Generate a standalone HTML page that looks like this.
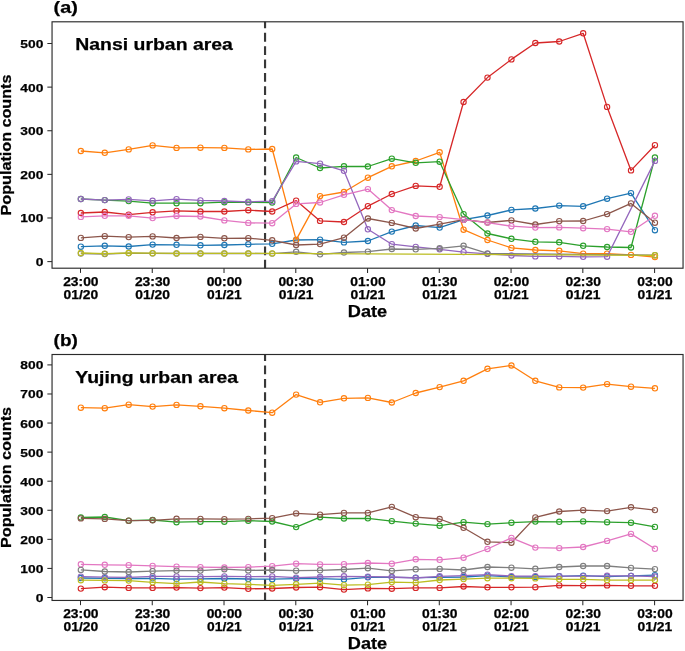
<!DOCTYPE html>
<html lang="en">
<head>
<meta charset="utf-8">
<title>Population counts</title>
<style>
html,body{margin:0;padding:0;background:#fff;}
body{width:685px;height:651px;overflow:hidden;font-family:"Liberation Sans",sans-serif;}
svg{display:block;}
</style>
</head>
<body>
<svg width="685" height="651" viewBox="0 0 685 651" font-family="'Liberation Sans', sans-serif" font-weight="bold" fill="#000">
<rect width="685" height="651" fill="#fff"/>
<g style="filter:opacity(1)">
<line x1="265.05" y1="21.8" x2="265.05" y2="268.2" stroke="#383838" stroke-width="2.15" stroke-dasharray="8.8 4.55" stroke-dashoffset="2.30"/>
<polyline points="80.85,246.70 104.77,245.80 128.69,246.50 152.61,244.60 176.53,244.80 200.45,245.30 224.37,245.00 248.29,244.30 272.21,243.80 296.13,240.00 320.05,239.70 343.97,242.40 367.89,241.00 391.81,231.60 415.73,225.50 439.65,227.60 463.57,219.70 487.49,215.50 511.41,209.90 535.33,208.50 559.25,205.60 583.17,206.30 607.09,198.70 631.01,193.10 654.93,230.20" fill="none" stroke="#1f77b4" stroke-width="1.3" stroke-linejoin="round"/>
<g fill="none" stroke="#1f77b4" stroke-width="1.1"><circle cx="80.85" cy="246.70" r="2.65"/><circle cx="104.77" cy="245.80" r="2.65"/><circle cx="128.69" cy="246.50" r="2.65"/><circle cx="152.61" cy="244.60" r="2.65"/><circle cx="176.53" cy="244.80" r="2.65"/><circle cx="200.45" cy="245.30" r="2.65"/><circle cx="224.37" cy="245.00" r="2.65"/><circle cx="248.29" cy="244.30" r="2.65"/><circle cx="272.21" cy="243.80" r="2.65"/><circle cx="296.13" cy="240.00" r="2.65"/><circle cx="320.05" cy="239.70" r="2.65"/><circle cx="343.97" cy="242.40" r="2.65"/><circle cx="367.89" cy="241.00" r="2.65"/><circle cx="391.81" cy="231.60" r="2.65"/><circle cx="415.73" cy="225.50" r="2.65"/><circle cx="439.65" cy="227.60" r="2.65"/><circle cx="463.57" cy="219.70" r="2.65"/><circle cx="487.49" cy="215.50" r="2.65"/><circle cx="511.41" cy="209.90" r="2.65"/><circle cx="535.33" cy="208.50" r="2.65"/><circle cx="559.25" cy="205.60" r="2.65"/><circle cx="583.17" cy="206.30" r="2.65"/><circle cx="607.09" cy="198.70" r="2.65"/><circle cx="631.01" cy="193.10" r="2.65"/><circle cx="654.93" cy="230.20" r="2.65"/></g>
<polyline points="80.85,151.00 104.77,152.80 128.69,149.40 152.61,145.40 176.53,147.90 200.45,147.70 224.37,147.90 248.29,149.40 272.21,149.00 296.13,239.90 320.05,196.10 343.97,192.00 367.89,177.70 391.81,166.30 415.73,161.00 439.65,152.30 463.57,229.70 487.49,240.00 511.41,247.90 535.33,250.00 559.25,250.80 583.17,253.60 607.09,253.60 631.01,254.90 654.93,257.10" fill="none" stroke="#ff7f0e" stroke-width="1.3" stroke-linejoin="round"/>
<g fill="none" stroke="#ff7f0e" stroke-width="1.1"><circle cx="80.85" cy="151.00" r="2.65"/><circle cx="104.77" cy="152.80" r="2.65"/><circle cx="128.69" cy="149.40" r="2.65"/><circle cx="152.61" cy="145.40" r="2.65"/><circle cx="176.53" cy="147.90" r="2.65"/><circle cx="200.45" cy="147.70" r="2.65"/><circle cx="224.37" cy="147.90" r="2.65"/><circle cx="248.29" cy="149.40" r="2.65"/><circle cx="272.21" cy="149.00" r="2.65"/><circle cx="296.13" cy="239.90" r="2.65"/><circle cx="320.05" cy="196.10" r="2.65"/><circle cx="343.97" cy="192.00" r="2.65"/><circle cx="367.89" cy="177.70" r="2.65"/><circle cx="391.81" cy="166.30" r="2.65"/><circle cx="415.73" cy="161.00" r="2.65"/><circle cx="439.65" cy="152.30" r="2.65"/><circle cx="463.57" cy="229.70" r="2.65"/><circle cx="487.49" cy="240.00" r="2.65"/><circle cx="511.41" cy="247.90" r="2.65"/><circle cx="535.33" cy="250.00" r="2.65"/><circle cx="559.25" cy="250.80" r="2.65"/><circle cx="583.17" cy="253.60" r="2.65"/><circle cx="607.09" cy="253.60" r="2.65"/><circle cx="631.01" cy="254.90" r="2.65"/><circle cx="654.93" cy="257.10" r="2.65"/></g>
<polyline points="80.85,199.00 104.77,200.10 128.69,201.10 152.61,203.20 176.53,203.20 200.45,203.20 224.37,202.20 248.29,202.40 272.21,202.60 296.13,157.50 320.05,168.00 343.97,166.30 367.89,166.50 391.81,158.70 415.73,162.80 439.65,161.70 463.57,214.10 487.49,233.50 511.41,238.80 535.33,241.80 559.25,242.30 583.17,245.80 607.09,247.00 631.01,247.50 654.93,157.50" fill="none" stroke="#2ca02c" stroke-width="1.3" stroke-linejoin="round"/>
<g fill="none" stroke="#2ca02c" stroke-width="1.1"><circle cx="80.85" cy="199.00" r="2.65"/><circle cx="104.77" cy="200.10" r="2.65"/><circle cx="128.69" cy="201.10" r="2.65"/><circle cx="152.61" cy="203.20" r="2.65"/><circle cx="176.53" cy="203.20" r="2.65"/><circle cx="200.45" cy="203.20" r="2.65"/><circle cx="224.37" cy="202.20" r="2.65"/><circle cx="248.29" cy="202.40" r="2.65"/><circle cx="272.21" cy="202.60" r="2.65"/><circle cx="296.13" cy="157.50" r="2.65"/><circle cx="320.05" cy="168.00" r="2.65"/><circle cx="343.97" cy="166.30" r="2.65"/><circle cx="367.89" cy="166.50" r="2.65"/><circle cx="391.81" cy="158.70" r="2.65"/><circle cx="415.73" cy="162.80" r="2.65"/><circle cx="439.65" cy="161.70" r="2.65"/><circle cx="463.57" cy="214.10" r="2.65"/><circle cx="487.49" cy="233.50" r="2.65"/><circle cx="511.41" cy="238.80" r="2.65"/><circle cx="535.33" cy="241.80" r="2.65"/><circle cx="559.25" cy="242.30" r="2.65"/><circle cx="583.17" cy="245.80" r="2.65"/><circle cx="607.09" cy="247.00" r="2.65"/><circle cx="631.01" cy="247.50" r="2.65"/><circle cx="654.93" cy="157.50" r="2.65"/></g>
<polyline points="80.85,213.00 104.77,212.00 128.69,214.60 152.61,212.30 176.53,210.90 200.45,211.50 224.37,211.50 248.29,210.20 272.21,211.50 296.13,200.60 320.05,220.90 343.97,222.00 367.89,206.20 391.81,194.00 415.73,185.90 439.65,186.80 463.57,102.00 487.49,77.60 511.41,59.40 535.33,43.00 559.25,41.50 583.17,33.30 607.09,106.90 631.01,170.40 654.93,145.20" fill="none" stroke="#d62728" stroke-width="1.3" stroke-linejoin="round"/>
<g fill="none" stroke="#d62728" stroke-width="1.1"><circle cx="80.85" cy="213.00" r="2.65"/><circle cx="104.77" cy="212.00" r="2.65"/><circle cx="128.69" cy="214.60" r="2.65"/><circle cx="152.61" cy="212.30" r="2.65"/><circle cx="176.53" cy="210.90" r="2.65"/><circle cx="200.45" cy="211.50" r="2.65"/><circle cx="224.37" cy="211.50" r="2.65"/><circle cx="248.29" cy="210.20" r="2.65"/><circle cx="272.21" cy="211.50" r="2.65"/><circle cx="296.13" cy="200.60" r="2.65"/><circle cx="320.05" cy="220.90" r="2.65"/><circle cx="343.97" cy="222.00" r="2.65"/><circle cx="367.89" cy="206.20" r="2.65"/><circle cx="391.81" cy="194.00" r="2.65"/><circle cx="415.73" cy="185.90" r="2.65"/><circle cx="439.65" cy="186.80" r="2.65"/><circle cx="463.57" cy="102.00" r="2.65"/><circle cx="487.49" cy="77.60" r="2.65"/><circle cx="511.41" cy="59.40" r="2.65"/><circle cx="535.33" cy="43.00" r="2.65"/><circle cx="559.25" cy="41.50" r="2.65"/><circle cx="583.17" cy="33.30" r="2.65"/><circle cx="607.09" cy="106.90" r="2.65"/><circle cx="631.01" cy="170.40" r="2.65"/><circle cx="654.93" cy="145.20" r="2.65"/></g>
<polyline points="80.85,199.00 104.77,200.10 128.69,199.40 152.61,200.80 176.53,199.20 200.45,200.40 224.37,201.00 248.29,201.80 272.21,201.20 296.13,161.40 320.05,163.70 343.97,170.80 367.89,229.30 391.81,244.20 415.73,246.90 439.65,249.30 463.57,252.10 487.49,253.90 511.41,255.50 535.33,256.40 559.25,256.40 583.17,256.80 607.09,256.70 654.93,160.90" fill="none" stroke="#9467bd" stroke-width="1.3" stroke-linejoin="round"/>
<g fill="none" stroke="#9467bd" stroke-width="1.1"><circle cx="80.85" cy="199.00" r="2.65"/><circle cx="104.77" cy="200.10" r="2.65"/><circle cx="128.69" cy="199.40" r="2.65"/><circle cx="152.61" cy="200.80" r="2.65"/><circle cx="176.53" cy="199.20" r="2.65"/><circle cx="200.45" cy="200.40" r="2.65"/><circle cx="224.37" cy="201.00" r="2.65"/><circle cx="248.29" cy="201.80" r="2.65"/><circle cx="272.21" cy="201.20" r="2.65"/><circle cx="296.13" cy="161.40" r="2.65"/><circle cx="320.05" cy="163.70" r="2.65"/><circle cx="343.97" cy="170.80" r="2.65"/><circle cx="367.89" cy="229.30" r="2.65"/><circle cx="391.81" cy="244.20" r="2.65"/><circle cx="415.73" cy="246.90" r="2.65"/><circle cx="439.65" cy="249.30" r="2.65"/><circle cx="463.57" cy="252.10" r="2.65"/><circle cx="487.49" cy="253.90" r="2.65"/><circle cx="511.41" cy="255.50" r="2.65"/><circle cx="535.33" cy="256.40" r="2.65"/><circle cx="559.25" cy="256.40" r="2.65"/><circle cx="583.17" cy="256.80" r="2.65"/><circle cx="607.09" cy="256.70" r="2.65"/><circle cx="654.93" cy="160.90" r="2.65"/></g>
<polyline points="80.85,237.90 104.77,236.20 128.69,237.10 152.61,236.40 176.53,238.00 200.45,236.90 224.37,238.30 248.29,238.20 272.21,240.30 296.13,245.00 320.05,244.10 343.97,237.70 367.89,218.50 391.81,222.90 415.73,228.50 439.65,224.10 463.57,219.70 487.49,222.50 511.41,220.40 535.33,224.50 559.25,221.10 583.17,221.00 607.09,214.10 631.01,203.40 654.93,222.70" fill="none" stroke="#8c564b" stroke-width="1.3" stroke-linejoin="round"/>
<g fill="none" stroke="#8c564b" stroke-width="1.1"><circle cx="80.85" cy="237.90" r="2.65"/><circle cx="104.77" cy="236.20" r="2.65"/><circle cx="128.69" cy="237.10" r="2.65"/><circle cx="152.61" cy="236.40" r="2.65"/><circle cx="176.53" cy="238.00" r="2.65"/><circle cx="200.45" cy="236.90" r="2.65"/><circle cx="224.37" cy="238.30" r="2.65"/><circle cx="248.29" cy="238.20" r="2.65"/><circle cx="272.21" cy="240.30" r="2.65"/><circle cx="296.13" cy="245.00" r="2.65"/><circle cx="320.05" cy="244.10" r="2.65"/><circle cx="343.97" cy="237.70" r="2.65"/><circle cx="367.89" cy="218.50" r="2.65"/><circle cx="391.81" cy="222.90" r="2.65"/><circle cx="415.73" cy="228.50" r="2.65"/><circle cx="439.65" cy="224.10" r="2.65"/><circle cx="463.57" cy="219.70" r="2.65"/><circle cx="487.49" cy="222.50" r="2.65"/><circle cx="511.41" cy="220.40" r="2.65"/><circle cx="535.33" cy="224.50" r="2.65"/><circle cx="559.25" cy="221.10" r="2.65"/><circle cx="583.17" cy="221.00" r="2.65"/><circle cx="607.09" cy="214.10" r="2.65"/><circle cx="631.01" cy="203.40" r="2.65"/><circle cx="654.93" cy="222.70" r="2.65"/></g>
<polyline points="80.85,216.90 104.77,215.80 128.69,215.80 152.61,218.10 176.53,216.00 200.45,216.50 224.37,220.40 248.29,222.90 272.21,223.20 296.13,203.90 320.05,202.50 343.97,194.80 367.89,189.10 391.81,210.10 415.73,216.00 439.65,217.10 463.57,219.70 487.49,222.60 511.41,226.20 535.33,227.60 559.25,227.40 583.17,228.20 607.09,229.10 631.01,231.80 654.93,215.80" fill="none" stroke="#e377c2" stroke-width="1.3" stroke-linejoin="round"/>
<g fill="none" stroke="#e377c2" stroke-width="1.1"><circle cx="80.85" cy="216.90" r="2.65"/><circle cx="104.77" cy="215.80" r="2.65"/><circle cx="128.69" cy="215.80" r="2.65"/><circle cx="152.61" cy="218.10" r="2.65"/><circle cx="176.53" cy="216.00" r="2.65"/><circle cx="200.45" cy="216.50" r="2.65"/><circle cx="224.37" cy="220.40" r="2.65"/><circle cx="248.29" cy="222.90" r="2.65"/><circle cx="272.21" cy="223.20" r="2.65"/><circle cx="296.13" cy="203.90" r="2.65"/><circle cx="320.05" cy="202.50" r="2.65"/><circle cx="343.97" cy="194.80" r="2.65"/><circle cx="367.89" cy="189.10" r="2.65"/><circle cx="391.81" cy="210.10" r="2.65"/><circle cx="415.73" cy="216.00" r="2.65"/><circle cx="439.65" cy="217.10" r="2.65"/><circle cx="463.57" cy="219.70" r="2.65"/><circle cx="487.49" cy="222.60" r="2.65"/><circle cx="511.41" cy="226.20" r="2.65"/><circle cx="535.33" cy="227.60" r="2.65"/><circle cx="559.25" cy="227.40" r="2.65"/><circle cx="583.17" cy="228.20" r="2.65"/><circle cx="607.09" cy="229.10" r="2.65"/><circle cx="631.01" cy="231.80" r="2.65"/><circle cx="654.93" cy="215.80" r="2.65"/></g>
<polyline points="80.85,253.50 104.77,254.00 128.69,253.20 152.61,253.40 176.53,253.50 200.45,253.50 224.37,253.50 248.29,253.50 272.21,253.60 296.13,251.80 320.05,254.30 343.97,252.50 367.89,251.60 391.81,249.00 415.73,249.30 439.65,248.30 463.57,245.80 487.49,253.40 654.93,255.20" fill="none" stroke="#7f7f7f" stroke-width="1.3" stroke-linejoin="round"/>
<g fill="none" stroke="#7f7f7f" stroke-width="1.1"><circle cx="80.85" cy="253.50" r="2.65"/><circle cx="104.77" cy="254.00" r="2.65"/><circle cx="128.69" cy="253.20" r="2.65"/><circle cx="152.61" cy="253.40" r="2.65"/><circle cx="176.53" cy="253.50" r="2.65"/><circle cx="200.45" cy="253.50" r="2.65"/><circle cx="224.37" cy="253.50" r="2.65"/><circle cx="248.29" cy="253.50" r="2.65"/><circle cx="272.21" cy="253.60" r="2.65"/><circle cx="296.13" cy="251.80" r="2.65"/><circle cx="320.05" cy="254.30" r="2.65"/><circle cx="343.97" cy="252.50" r="2.65"/><circle cx="367.89" cy="251.60" r="2.65"/><circle cx="391.81" cy="249.00" r="2.65"/><circle cx="415.73" cy="249.30" r="2.65"/><circle cx="439.65" cy="248.30" r="2.65"/><circle cx="463.57" cy="245.80" r="2.65"/><circle cx="487.49" cy="253.40" r="2.65"/><circle cx="654.93" cy="255.20" r="2.65"/></g>
<polyline points="80.85,253.00 104.77,253.60 128.69,253.00 152.61,253.20 176.53,253.40 200.45,253.40 224.37,253.40 248.29,253.40 272.21,253.40 654.93,255.30" fill="none" stroke="#bcbd22" stroke-width="1.3" stroke-linejoin="round"/>
<g fill="none" stroke="#bcbd22" stroke-width="1.1"><circle cx="80.85" cy="253.00" r="2.65"/><circle cx="104.77" cy="253.60" r="2.65"/><circle cx="128.69" cy="253.00" r="2.65"/><circle cx="152.61" cy="253.20" r="2.65"/><circle cx="176.53" cy="253.40" r="2.65"/><circle cx="200.45" cy="253.40" r="2.65"/><circle cx="224.37" cy="253.40" r="2.65"/><circle cx="248.29" cy="253.40" r="2.65"/><circle cx="272.21" cy="253.40" r="2.65"/><circle cx="654.93" cy="255.30" r="2.65"/></g>
<rect x="52.05" y="21.8" width="631.0" height="246.39999999999998" fill="none" stroke="#2b2b2b" stroke-width="1.15"/>
<line x1="47.349999999999994" y1="261.60" x2="52.05" y2="261.60" stroke="#2b2b2b" stroke-width="1.05"/>
<text stroke="#000" stroke-width="0.25" x="43.35" y="266.05" font-size="11.8" text-anchor="end" textLength="7.7" lengthAdjust="spacingAndGlyphs">0</text>
<line x1="47.349999999999994" y1="217.98" x2="52.05" y2="217.98" stroke="#2b2b2b" stroke-width="1.05"/>
<text stroke="#000" stroke-width="0.25" x="43.35" y="222.43" font-size="11.8" text-anchor="end" textLength="23.0" lengthAdjust="spacingAndGlyphs">100</text>
<line x1="47.349999999999994" y1="174.36" x2="52.05" y2="174.36" stroke="#2b2b2b" stroke-width="1.05"/>
<text stroke="#000" stroke-width="0.25" x="43.35" y="178.81" font-size="11.8" text-anchor="end" textLength="23.0" lengthAdjust="spacingAndGlyphs">200</text>
<line x1="47.349999999999994" y1="130.74" x2="52.05" y2="130.74" stroke="#2b2b2b" stroke-width="1.05"/>
<text stroke="#000" stroke-width="0.25" x="43.35" y="135.19" font-size="11.8" text-anchor="end" textLength="23.0" lengthAdjust="spacingAndGlyphs">300</text>
<line x1="47.349999999999994" y1="87.12" x2="52.05" y2="87.12" stroke="#2b2b2b" stroke-width="1.05"/>
<text stroke="#000" stroke-width="0.25" x="43.35" y="91.57" font-size="11.8" text-anchor="end" textLength="23.0" lengthAdjust="spacingAndGlyphs">400</text>
<line x1="47.349999999999994" y1="43.50" x2="52.05" y2="43.50" stroke="#2b2b2b" stroke-width="1.05"/>
<text stroke="#000" stroke-width="0.25" x="43.35" y="47.95" font-size="11.8" text-anchor="end" textLength="23.0" lengthAdjust="spacingAndGlyphs">500</text>
<line x1="80.50" y1="268.2" x2="80.50" y2="272.9" stroke="#2b2b2b" stroke-width="1.05"/>
<text stroke="#000" stroke-width="0.25" x="80.85" y="285.60" font-size="11.9" text-anchor="middle" textLength="35.4" lengthAdjust="spacingAndGlyphs">23:00</text>
<text stroke="#000" stroke-width="0.25" x="80.85" y="298.60" font-size="11.9" text-anchor="middle" textLength="34.6" lengthAdjust="spacingAndGlyphs">01/20</text>
<line x1="152.26" y1="268.2" x2="152.26" y2="272.9" stroke="#2b2b2b" stroke-width="1.05"/>
<text stroke="#000" stroke-width="0.25" x="152.61" y="285.60" font-size="11.9" text-anchor="middle" textLength="35.4" lengthAdjust="spacingAndGlyphs">23:30</text>
<text stroke="#000" stroke-width="0.25" x="152.61" y="298.60" font-size="11.9" text-anchor="middle" textLength="34.6" lengthAdjust="spacingAndGlyphs">01/20</text>
<line x1="224.02" y1="268.2" x2="224.02" y2="272.9" stroke="#2b2b2b" stroke-width="1.05"/>
<text stroke="#000" stroke-width="0.25" x="224.37" y="285.60" font-size="11.9" text-anchor="middle" textLength="35.4" lengthAdjust="spacingAndGlyphs">00:00</text>
<text stroke="#000" stroke-width="0.25" x="224.37" y="298.60" font-size="11.9" text-anchor="middle" textLength="34.6" lengthAdjust="spacingAndGlyphs">01/21</text>
<line x1="295.78" y1="268.2" x2="295.78" y2="272.9" stroke="#2b2b2b" stroke-width="1.05"/>
<text stroke="#000" stroke-width="0.25" x="296.13" y="285.60" font-size="11.9" text-anchor="middle" textLength="35.4" lengthAdjust="spacingAndGlyphs">00:30</text>
<text stroke="#000" stroke-width="0.25" x="296.13" y="298.60" font-size="11.9" text-anchor="middle" textLength="34.6" lengthAdjust="spacingAndGlyphs">01/21</text>
<line x1="367.54" y1="268.2" x2="367.54" y2="272.9" stroke="#2b2b2b" stroke-width="1.05"/>
<text stroke="#000" stroke-width="0.25" x="367.89" y="285.60" font-size="11.9" text-anchor="middle" textLength="35.4" lengthAdjust="spacingAndGlyphs">01:00</text>
<text stroke="#000" stroke-width="0.25" x="367.89" y="298.60" font-size="11.9" text-anchor="middle" textLength="34.6" lengthAdjust="spacingAndGlyphs">01/21</text>
<line x1="439.30" y1="268.2" x2="439.30" y2="272.9" stroke="#2b2b2b" stroke-width="1.05"/>
<text stroke="#000" stroke-width="0.25" x="439.65" y="285.60" font-size="11.9" text-anchor="middle" textLength="35.4" lengthAdjust="spacingAndGlyphs">01:30</text>
<text stroke="#000" stroke-width="0.25" x="439.65" y="298.60" font-size="11.9" text-anchor="middle" textLength="34.6" lengthAdjust="spacingAndGlyphs">01/21</text>
<line x1="511.06" y1="268.2" x2="511.06" y2="272.9" stroke="#2b2b2b" stroke-width="1.05"/>
<text stroke="#000" stroke-width="0.25" x="511.41" y="285.60" font-size="11.9" text-anchor="middle" textLength="35.4" lengthAdjust="spacingAndGlyphs">02:00</text>
<text stroke="#000" stroke-width="0.25" x="511.41" y="298.60" font-size="11.9" text-anchor="middle" textLength="34.6" lengthAdjust="spacingAndGlyphs">01/21</text>
<line x1="582.82" y1="268.2" x2="582.82" y2="272.9" stroke="#2b2b2b" stroke-width="1.05"/>
<text stroke="#000" stroke-width="0.25" x="583.17" y="285.60" font-size="11.9" text-anchor="middle" textLength="35.4" lengthAdjust="spacingAndGlyphs">02:30</text>
<text stroke="#000" stroke-width="0.25" x="583.17" y="298.60" font-size="11.9" text-anchor="middle" textLength="34.6" lengthAdjust="spacingAndGlyphs">01/21</text>
<line x1="654.58" y1="268.2" x2="654.58" y2="272.9" stroke="#2b2b2b" stroke-width="1.05"/>
<text stroke="#000" stroke-width="0.25" x="654.93" y="285.60" font-size="11.9" text-anchor="middle" textLength="35.4" lengthAdjust="spacingAndGlyphs">03:00</text>
<text stroke="#000" stroke-width="0.25" x="654.93" y="298.60" font-size="11.9" text-anchor="middle" textLength="34.6" lengthAdjust="spacingAndGlyphs">01/21</text>
<text stroke="#000" stroke-width="0.25" x="367.55" y="317.10" font-size="15.8" text-anchor="middle" textLength="39.4" lengthAdjust="spacingAndGlyphs">Date</text>
<text stroke="#000" stroke-width="0.25" transform="translate(11.4,145.00) rotate(-90)" font-size="14.0" text-anchor="middle" textLength="141.0" lengthAdjust="spacingAndGlyphs">Population counts</text>
<text stroke="#000" stroke-width="0.25" x="75.3" y="49.90" font-size="16.9" text-anchor="start" textLength="157.6" lengthAdjust="spacingAndGlyphs">Nansi urban area</text>
<text stroke="#000" stroke-width="0.25" x="53.6" y="13.00" font-size="15.6" text-anchor="start" textLength="24.2" lengthAdjust="spacingAndGlyphs">(a)</text>
<line x1="265.05" y1="354.5" x2="265.05" y2="600.45" stroke="#383838" stroke-width="2.15" stroke-dasharray="8.8 4.55" stroke-dashoffset="2.30"/>
<polyline points="80.85,578.00 104.77,578.30 128.69,578.50 152.61,578.30 176.53,579.20 200.45,578.80 224.37,578.50 248.29,579.00 272.21,579.20 296.13,578.70 320.05,578.70 343.97,579.40 367.89,577.30 391.81,577.30 415.73,577.70 439.65,577.30 463.57,577.00 487.49,575.60 511.41,577.00 535.33,577.00 559.25,576.30 583.17,575.60 607.09,576.60 631.01,575.90 654.93,575.20" fill="none" stroke="#1f77b4" stroke-width="1.3" stroke-linejoin="round"/>
<g fill="none" stroke="#1f77b4" stroke-width="1.1"><circle cx="80.85" cy="578.00" r="2.65"/><circle cx="104.77" cy="578.30" r="2.65"/><circle cx="128.69" cy="578.50" r="2.65"/><circle cx="152.61" cy="578.30" r="2.65"/><circle cx="176.53" cy="579.20" r="2.65"/><circle cx="200.45" cy="578.80" r="2.65"/><circle cx="224.37" cy="578.50" r="2.65"/><circle cx="248.29" cy="579.00" r="2.65"/><circle cx="272.21" cy="579.20" r="2.65"/><circle cx="296.13" cy="578.70" r="2.65"/><circle cx="320.05" cy="578.70" r="2.65"/><circle cx="343.97" cy="579.40" r="2.65"/><circle cx="367.89" cy="577.30" r="2.65"/><circle cx="391.81" cy="577.30" r="2.65"/><circle cx="415.73" cy="577.70" r="2.65"/><circle cx="439.65" cy="577.30" r="2.65"/><circle cx="463.57" cy="577.00" r="2.65"/><circle cx="487.49" cy="575.60" r="2.65"/><circle cx="511.41" cy="577.00" r="2.65"/><circle cx="535.33" cy="577.00" r="2.65"/><circle cx="559.25" cy="576.30" r="2.65"/><circle cx="583.17" cy="575.60" r="2.65"/><circle cx="607.09" cy="576.60" r="2.65"/><circle cx="631.01" cy="575.90" r="2.65"/><circle cx="654.93" cy="575.20" r="2.65"/></g>
<polyline points="80.85,407.70 104.77,408.20 128.69,404.70 152.61,406.60 176.53,404.90 200.45,406.30 224.37,408.20 248.29,410.50 272.21,412.70 296.13,394.60 320.05,402.30 343.97,398.30 367.89,397.90 391.81,402.50 415.73,393.00 439.65,387.10 463.57,380.80 487.49,368.80 511.41,365.50 535.33,380.80 559.25,387.40 583.17,387.60 607.09,384.10 631.01,386.70 654.93,388.30" fill="none" stroke="#ff7f0e" stroke-width="1.3" stroke-linejoin="round"/>
<g fill="none" stroke="#ff7f0e" stroke-width="1.1"><circle cx="80.85" cy="407.70" r="2.65"/><circle cx="104.77" cy="408.20" r="2.65"/><circle cx="128.69" cy="404.70" r="2.65"/><circle cx="152.61" cy="406.60" r="2.65"/><circle cx="176.53" cy="404.90" r="2.65"/><circle cx="200.45" cy="406.30" r="2.65"/><circle cx="224.37" cy="408.20" r="2.65"/><circle cx="248.29" cy="410.50" r="2.65"/><circle cx="272.21" cy="412.70" r="2.65"/><circle cx="296.13" cy="394.60" r="2.65"/><circle cx="320.05" cy="402.30" r="2.65"/><circle cx="343.97" cy="398.30" r="2.65"/><circle cx="367.89" cy="397.90" r="2.65"/><circle cx="391.81" cy="402.50" r="2.65"/><circle cx="415.73" cy="393.00" r="2.65"/><circle cx="439.65" cy="387.10" r="2.65"/><circle cx="463.57" cy="380.80" r="2.65"/><circle cx="487.49" cy="368.80" r="2.65"/><circle cx="511.41" cy="365.50" r="2.65"/><circle cx="535.33" cy="380.80" r="2.65"/><circle cx="559.25" cy="387.40" r="2.65"/><circle cx="583.17" cy="387.60" r="2.65"/><circle cx="607.09" cy="384.10" r="2.65"/><circle cx="631.01" cy="386.70" r="2.65"/><circle cx="654.93" cy="388.30" r="2.65"/></g>
<polyline points="80.85,517.50 104.77,517.00 128.69,520.70 152.61,520.00 176.53,522.20 200.45,521.70 224.37,521.70 248.29,520.70 272.21,521.50 296.13,527.10 320.05,517.20 343.97,518.50 367.89,518.30 391.81,521.10 415.73,523.60 439.65,525.70 463.57,522.20 487.49,524.10 511.41,522.70 535.33,521.60 559.25,521.80 583.17,521.40 607.09,522.20 631.01,522.70 654.93,526.90" fill="none" stroke="#2ca02c" stroke-width="1.3" stroke-linejoin="round"/>
<g fill="none" stroke="#2ca02c" stroke-width="1.1"><circle cx="80.85" cy="517.50" r="2.65"/><circle cx="104.77" cy="517.00" r="2.65"/><circle cx="128.69" cy="520.70" r="2.65"/><circle cx="152.61" cy="520.00" r="2.65"/><circle cx="176.53" cy="522.20" r="2.65"/><circle cx="200.45" cy="521.70" r="2.65"/><circle cx="224.37" cy="521.70" r="2.65"/><circle cx="248.29" cy="520.70" r="2.65"/><circle cx="272.21" cy="521.50" r="2.65"/><circle cx="296.13" cy="527.10" r="2.65"/><circle cx="320.05" cy="517.20" r="2.65"/><circle cx="343.97" cy="518.50" r="2.65"/><circle cx="367.89" cy="518.30" r="2.65"/><circle cx="391.81" cy="521.10" r="2.65"/><circle cx="415.73" cy="523.60" r="2.65"/><circle cx="439.65" cy="525.70" r="2.65"/><circle cx="463.57" cy="522.20" r="2.65"/><circle cx="487.49" cy="524.10" r="2.65"/><circle cx="511.41" cy="522.70" r="2.65"/><circle cx="535.33" cy="521.60" r="2.65"/><circle cx="559.25" cy="521.80" r="2.65"/><circle cx="583.17" cy="521.40" r="2.65"/><circle cx="607.09" cy="522.20" r="2.65"/><circle cx="631.01" cy="522.70" r="2.65"/><circle cx="654.93" cy="526.90" r="2.65"/></g>
<polyline points="80.85,588.60 104.77,587.20 128.69,587.90 152.61,587.90 176.53,587.60 200.45,588.10 224.37,587.60 248.29,588.80 272.21,588.50 296.13,587.50 320.05,587.20 343.97,589.60 367.89,588.40 391.81,588.70 415.73,587.90 439.65,587.90 463.57,586.50 487.49,587.30 511.41,587.30 535.33,587.20 559.25,585.40 583.17,585.60 607.09,585.40 631.01,585.80 654.93,585.80" fill="none" stroke="#d62728" stroke-width="1.3" stroke-linejoin="round"/>
<g fill="none" stroke="#d62728" stroke-width="1.1"><circle cx="80.85" cy="588.60" r="2.65"/><circle cx="104.77" cy="587.20" r="2.65"/><circle cx="128.69" cy="587.90" r="2.65"/><circle cx="152.61" cy="587.90" r="2.65"/><circle cx="176.53" cy="587.60" r="2.65"/><circle cx="200.45" cy="588.10" r="2.65"/><circle cx="224.37" cy="587.60" r="2.65"/><circle cx="248.29" cy="588.80" r="2.65"/><circle cx="272.21" cy="588.50" r="2.65"/><circle cx="296.13" cy="587.50" r="2.65"/><circle cx="320.05" cy="587.20" r="2.65"/><circle cx="343.97" cy="589.60" r="2.65"/><circle cx="367.89" cy="588.40" r="2.65"/><circle cx="391.81" cy="588.70" r="2.65"/><circle cx="415.73" cy="587.90" r="2.65"/><circle cx="439.65" cy="587.90" r="2.65"/><circle cx="463.57" cy="586.50" r="2.65"/><circle cx="487.49" cy="587.30" r="2.65"/><circle cx="511.41" cy="587.30" r="2.65"/><circle cx="535.33" cy="587.20" r="2.65"/><circle cx="559.25" cy="585.40" r="2.65"/><circle cx="583.17" cy="585.60" r="2.65"/><circle cx="607.09" cy="585.40" r="2.65"/><circle cx="631.01" cy="585.80" r="2.65"/><circle cx="654.93" cy="585.80" r="2.65"/></g>
<polyline points="80.85,576.60 104.77,577.10 128.69,577.40 152.61,576.40 176.53,576.40 200.45,576.70 224.37,576.40 248.29,576.60 272.21,576.40 296.13,577.70 320.05,577.00 343.97,576.30 367.89,576.60 391.81,577.00 415.73,578.00 439.65,576.30 463.57,575.60 487.49,574.70 511.41,576.10 535.33,576.10 559.25,576.10 583.17,576.10 607.09,575.80 631.01,575.90 654.93,576.50" fill="none" stroke="#9467bd" stroke-width="1.3" stroke-linejoin="round"/>
<g fill="none" stroke="#9467bd" stroke-width="1.1"><circle cx="80.85" cy="576.60" r="2.65"/><circle cx="104.77" cy="577.10" r="2.65"/><circle cx="128.69" cy="577.40" r="2.65"/><circle cx="152.61" cy="576.40" r="2.65"/><circle cx="176.53" cy="576.40" r="2.65"/><circle cx="200.45" cy="576.70" r="2.65"/><circle cx="224.37" cy="576.40" r="2.65"/><circle cx="248.29" cy="576.60" r="2.65"/><circle cx="272.21" cy="576.40" r="2.65"/><circle cx="296.13" cy="577.70" r="2.65"/><circle cx="320.05" cy="577.00" r="2.65"/><circle cx="343.97" cy="576.30" r="2.65"/><circle cx="367.89" cy="576.60" r="2.65"/><circle cx="391.81" cy="577.00" r="2.65"/><circle cx="415.73" cy="578.00" r="2.65"/><circle cx="439.65" cy="576.30" r="2.65"/><circle cx="463.57" cy="575.60" r="2.65"/><circle cx="487.49" cy="574.70" r="2.65"/><circle cx="511.41" cy="576.10" r="2.65"/><circle cx="535.33" cy="576.10" r="2.65"/><circle cx="559.25" cy="576.10" r="2.65"/><circle cx="583.17" cy="576.10" r="2.65"/><circle cx="607.09" cy="575.80" r="2.65"/><circle cx="631.01" cy="575.90" r="2.65"/><circle cx="654.93" cy="576.50" r="2.65"/></g>
<polyline points="80.85,518.40 104.77,518.90 128.69,520.70 152.61,520.30 176.53,518.80 200.45,518.90 224.37,519.10 248.29,518.90 272.21,518.10 296.13,513.40 320.05,514.60 343.97,512.90 367.89,512.90 391.81,506.90 415.73,517.20 439.65,519.00 463.57,527.80 487.49,541.80 511.41,542.70 535.33,517.40 559.25,511.50 583.17,510.20 607.09,511.10 631.01,507.30 654.93,510.10" fill="none" stroke="#8c564b" stroke-width="1.3" stroke-linejoin="round"/>
<g fill="none" stroke="#8c564b" stroke-width="1.1"><circle cx="80.85" cy="518.40" r="2.65"/><circle cx="104.77" cy="518.90" r="2.65"/><circle cx="128.69" cy="520.70" r="2.65"/><circle cx="152.61" cy="520.30" r="2.65"/><circle cx="176.53" cy="518.80" r="2.65"/><circle cx="200.45" cy="518.90" r="2.65"/><circle cx="224.37" cy="519.10" r="2.65"/><circle cx="248.29" cy="518.90" r="2.65"/><circle cx="272.21" cy="518.10" r="2.65"/><circle cx="296.13" cy="513.40" r="2.65"/><circle cx="320.05" cy="514.60" r="2.65"/><circle cx="343.97" cy="512.90" r="2.65"/><circle cx="367.89" cy="512.90" r="2.65"/><circle cx="391.81" cy="506.90" r="2.65"/><circle cx="415.73" cy="517.20" r="2.65"/><circle cx="439.65" cy="519.00" r="2.65"/><circle cx="463.57" cy="527.80" r="2.65"/><circle cx="487.49" cy="541.80" r="2.65"/><circle cx="511.41" cy="542.70" r="2.65"/><circle cx="535.33" cy="517.40" r="2.65"/><circle cx="559.25" cy="511.50" r="2.65"/><circle cx="583.17" cy="510.20" r="2.65"/><circle cx="607.09" cy="511.10" r="2.65"/><circle cx="631.01" cy="507.30" r="2.65"/><circle cx="654.93" cy="510.10" r="2.65"/></g>
<polyline points="80.85,564.30 104.77,564.80 128.69,565.20 152.61,565.90 176.53,566.60 200.45,567.10 224.37,567.50 248.29,567.10 272.21,566.20 296.13,563.70 320.05,564.40 343.97,564.20 367.89,563.00 391.81,563.70 415.73,559.30 439.65,559.80 463.57,557.70 487.49,549.00 511.41,537.90 535.33,547.60 559.25,548.10 583.17,547.00 607.09,540.90 631.01,533.90 654.93,548.80" fill="none" stroke="#e377c2" stroke-width="1.3" stroke-linejoin="round"/>
<g fill="none" stroke="#e377c2" stroke-width="1.1"><circle cx="80.85" cy="564.30" r="2.65"/><circle cx="104.77" cy="564.80" r="2.65"/><circle cx="128.69" cy="565.20" r="2.65"/><circle cx="152.61" cy="565.90" r="2.65"/><circle cx="176.53" cy="566.60" r="2.65"/><circle cx="200.45" cy="567.10" r="2.65"/><circle cx="224.37" cy="567.50" r="2.65"/><circle cx="248.29" cy="567.10" r="2.65"/><circle cx="272.21" cy="566.20" r="2.65"/><circle cx="296.13" cy="563.70" r="2.65"/><circle cx="320.05" cy="564.40" r="2.65"/><circle cx="343.97" cy="564.20" r="2.65"/><circle cx="367.89" cy="563.00" r="2.65"/><circle cx="391.81" cy="563.70" r="2.65"/><circle cx="415.73" cy="559.30" r="2.65"/><circle cx="439.65" cy="559.80" r="2.65"/><circle cx="463.57" cy="557.70" r="2.65"/><circle cx="487.49" cy="549.00" r="2.65"/><circle cx="511.41" cy="537.90" r="2.65"/><circle cx="535.33" cy="547.60" r="2.65"/><circle cx="559.25" cy="548.10" r="2.65"/><circle cx="583.17" cy="547.00" r="2.65"/><circle cx="607.09" cy="540.90" r="2.65"/><circle cx="631.01" cy="533.90" r="2.65"/><circle cx="654.93" cy="548.80" r="2.65"/></g>
<polyline points="80.85,569.90 104.77,571.50 128.69,572.00 152.61,571.10 176.53,570.60 200.45,570.60 224.37,569.20 248.29,570.40 272.21,570.00 296.13,570.70 320.05,570.30 343.97,569.50 367.89,568.20 391.81,570.90 415.73,569.30 439.65,568.90 463.57,570.00 487.49,567.00 511.41,567.70 535.33,568.80 559.25,567.00 583.17,566.00 607.09,566.00 631.01,567.90 654.93,569.10" fill="none" stroke="#7f7f7f" stroke-width="1.3" stroke-linejoin="round"/>
<g fill="none" stroke="#7f7f7f" stroke-width="1.1"><circle cx="80.85" cy="569.90" r="2.65"/><circle cx="104.77" cy="571.50" r="2.65"/><circle cx="128.69" cy="572.00" r="2.65"/><circle cx="152.61" cy="571.10" r="2.65"/><circle cx="176.53" cy="570.60" r="2.65"/><circle cx="200.45" cy="570.60" r="2.65"/><circle cx="224.37" cy="569.20" r="2.65"/><circle cx="248.29" cy="570.40" r="2.65"/><circle cx="272.21" cy="570.00" r="2.65"/><circle cx="296.13" cy="570.70" r="2.65"/><circle cx="320.05" cy="570.30" r="2.65"/><circle cx="343.97" cy="569.50" r="2.65"/><circle cx="367.89" cy="568.20" r="2.65"/><circle cx="391.81" cy="570.90" r="2.65"/><circle cx="415.73" cy="569.30" r="2.65"/><circle cx="439.65" cy="568.90" r="2.65"/><circle cx="463.57" cy="570.00" r="2.65"/><circle cx="487.49" cy="567.00" r="2.65"/><circle cx="511.41" cy="567.70" r="2.65"/><circle cx="535.33" cy="568.80" r="2.65"/><circle cx="559.25" cy="567.00" r="2.65"/><circle cx="583.17" cy="566.00" r="2.65"/><circle cx="607.09" cy="566.00" r="2.65"/><circle cx="631.01" cy="567.90" r="2.65"/><circle cx="654.93" cy="569.10" r="2.65"/></g>
<polyline points="80.85,580.20 104.77,580.40 128.69,580.60 152.61,582.30 176.53,583.70 200.45,582.00 224.37,583.70 248.29,584.40 272.21,585.30 296.13,584.30 320.05,583.10 343.97,585.20 367.89,584.70 391.81,582.10 415.73,582.60 439.65,580.00 463.57,579.10 487.49,578.20 511.41,578.20 535.33,578.40 559.25,579.30 583.17,579.30 607.09,580.10 631.01,580.10 654.93,580.10" fill="none" stroke="#bcbd22" stroke-width="1.3" stroke-linejoin="round"/>
<g fill="none" stroke="#bcbd22" stroke-width="1.1"><circle cx="80.85" cy="580.20" r="2.65"/><circle cx="104.77" cy="580.40" r="2.65"/><circle cx="128.69" cy="580.60" r="2.65"/><circle cx="152.61" cy="582.30" r="2.65"/><circle cx="176.53" cy="583.70" r="2.65"/><circle cx="200.45" cy="582.00" r="2.65"/><circle cx="224.37" cy="583.70" r="2.65"/><circle cx="248.29" cy="584.40" r="2.65"/><circle cx="272.21" cy="585.30" r="2.65"/><circle cx="296.13" cy="584.30" r="2.65"/><circle cx="320.05" cy="583.10" r="2.65"/><circle cx="343.97" cy="585.20" r="2.65"/><circle cx="367.89" cy="584.70" r="2.65"/><circle cx="391.81" cy="582.10" r="2.65"/><circle cx="415.73" cy="582.60" r="2.65"/><circle cx="439.65" cy="580.00" r="2.65"/><circle cx="463.57" cy="579.10" r="2.65"/><circle cx="487.49" cy="578.20" r="2.65"/><circle cx="511.41" cy="578.20" r="2.65"/><circle cx="535.33" cy="578.40" r="2.65"/><circle cx="559.25" cy="579.30" r="2.65"/><circle cx="583.17" cy="579.30" r="2.65"/><circle cx="607.09" cy="580.10" r="2.65"/><circle cx="631.01" cy="580.10" r="2.65"/><circle cx="654.93" cy="580.10" r="2.65"/></g>
<rect x="52.05" y="354.5" width="631.0" height="245.95000000000005" fill="none" stroke="#2b2b2b" stroke-width="1.15"/>
<line x1="47.349999999999994" y1="597.50" x2="52.05" y2="597.50" stroke="#2b2b2b" stroke-width="1.05"/>
<text stroke="#000" stroke-width="0.25" x="43.35" y="601.95" font-size="11.8" text-anchor="end" textLength="7.7" lengthAdjust="spacingAndGlyphs">0</text>
<line x1="47.349999999999994" y1="568.42" x2="52.05" y2="568.42" stroke="#2b2b2b" stroke-width="1.05"/>
<text stroke="#000" stroke-width="0.25" x="43.35" y="572.88" font-size="11.8" text-anchor="end" textLength="23.0" lengthAdjust="spacingAndGlyphs">100</text>
<line x1="47.349999999999994" y1="539.35" x2="52.05" y2="539.35" stroke="#2b2b2b" stroke-width="1.05"/>
<text stroke="#000" stroke-width="0.25" x="43.35" y="543.80" font-size="11.8" text-anchor="end" textLength="23.0" lengthAdjust="spacingAndGlyphs">200</text>
<line x1="47.349999999999994" y1="510.27" x2="52.05" y2="510.27" stroke="#2b2b2b" stroke-width="1.05"/>
<text stroke="#000" stroke-width="0.25" x="43.35" y="514.73" font-size="11.8" text-anchor="end" textLength="23.0" lengthAdjust="spacingAndGlyphs">300</text>
<line x1="47.349999999999994" y1="481.20" x2="52.05" y2="481.20" stroke="#2b2b2b" stroke-width="1.05"/>
<text stroke="#000" stroke-width="0.25" x="43.35" y="485.65" font-size="11.8" text-anchor="end" textLength="23.0" lengthAdjust="spacingAndGlyphs">400</text>
<line x1="47.349999999999994" y1="452.12" x2="52.05" y2="452.12" stroke="#2b2b2b" stroke-width="1.05"/>
<text stroke="#000" stroke-width="0.25" x="43.35" y="456.57" font-size="11.8" text-anchor="end" textLength="23.0" lengthAdjust="spacingAndGlyphs">500</text>
<line x1="47.349999999999994" y1="423.05" x2="52.05" y2="423.05" stroke="#2b2b2b" stroke-width="1.05"/>
<text stroke="#000" stroke-width="0.25" x="43.35" y="427.50" font-size="11.8" text-anchor="end" textLength="23.0" lengthAdjust="spacingAndGlyphs">600</text>
<line x1="47.349999999999994" y1="393.98" x2="52.05" y2="393.98" stroke="#2b2b2b" stroke-width="1.05"/>
<text stroke="#000" stroke-width="0.25" x="43.35" y="398.43" font-size="11.8" text-anchor="end" textLength="23.0" lengthAdjust="spacingAndGlyphs">700</text>
<line x1="47.349999999999994" y1="364.90" x2="52.05" y2="364.90" stroke="#2b2b2b" stroke-width="1.05"/>
<text stroke="#000" stroke-width="0.25" x="43.35" y="369.35" font-size="11.8" text-anchor="end" textLength="23.0" lengthAdjust="spacingAndGlyphs">800</text>
<line x1="80.50" y1="600.45" x2="80.50" y2="605.1500000000001" stroke="#2b2b2b" stroke-width="1.05"/>
<text stroke="#000" stroke-width="0.25" x="80.85" y="617.85" font-size="11.9" text-anchor="middle" textLength="35.4" lengthAdjust="spacingAndGlyphs">23:00</text>
<text stroke="#000" stroke-width="0.25" x="80.85" y="630.85" font-size="11.9" text-anchor="middle" textLength="34.6" lengthAdjust="spacingAndGlyphs">01/20</text>
<line x1="152.26" y1="600.45" x2="152.26" y2="605.1500000000001" stroke="#2b2b2b" stroke-width="1.05"/>
<text stroke="#000" stroke-width="0.25" x="152.61" y="617.85" font-size="11.9" text-anchor="middle" textLength="35.4" lengthAdjust="spacingAndGlyphs">23:30</text>
<text stroke="#000" stroke-width="0.25" x="152.61" y="630.85" font-size="11.9" text-anchor="middle" textLength="34.6" lengthAdjust="spacingAndGlyphs">01/20</text>
<line x1="224.02" y1="600.45" x2="224.02" y2="605.1500000000001" stroke="#2b2b2b" stroke-width="1.05"/>
<text stroke="#000" stroke-width="0.25" x="224.37" y="617.85" font-size="11.9" text-anchor="middle" textLength="35.4" lengthAdjust="spacingAndGlyphs">00:00</text>
<text stroke="#000" stroke-width="0.25" x="224.37" y="630.85" font-size="11.9" text-anchor="middle" textLength="34.6" lengthAdjust="spacingAndGlyphs">01/21</text>
<line x1="295.78" y1="600.45" x2="295.78" y2="605.1500000000001" stroke="#2b2b2b" stroke-width="1.05"/>
<text stroke="#000" stroke-width="0.25" x="296.13" y="617.85" font-size="11.9" text-anchor="middle" textLength="35.4" lengthAdjust="spacingAndGlyphs">00:30</text>
<text stroke="#000" stroke-width="0.25" x="296.13" y="630.85" font-size="11.9" text-anchor="middle" textLength="34.6" lengthAdjust="spacingAndGlyphs">01/21</text>
<line x1="367.54" y1="600.45" x2="367.54" y2="605.1500000000001" stroke="#2b2b2b" stroke-width="1.05"/>
<text stroke="#000" stroke-width="0.25" x="367.89" y="617.85" font-size="11.9" text-anchor="middle" textLength="35.4" lengthAdjust="spacingAndGlyphs">01:00</text>
<text stroke="#000" stroke-width="0.25" x="367.89" y="630.85" font-size="11.9" text-anchor="middle" textLength="34.6" lengthAdjust="spacingAndGlyphs">01/21</text>
<line x1="439.30" y1="600.45" x2="439.30" y2="605.1500000000001" stroke="#2b2b2b" stroke-width="1.05"/>
<text stroke="#000" stroke-width="0.25" x="439.65" y="617.85" font-size="11.9" text-anchor="middle" textLength="35.4" lengthAdjust="spacingAndGlyphs">01:30</text>
<text stroke="#000" stroke-width="0.25" x="439.65" y="630.85" font-size="11.9" text-anchor="middle" textLength="34.6" lengthAdjust="spacingAndGlyphs">01/21</text>
<line x1="511.06" y1="600.45" x2="511.06" y2="605.1500000000001" stroke="#2b2b2b" stroke-width="1.05"/>
<text stroke="#000" stroke-width="0.25" x="511.41" y="617.85" font-size="11.9" text-anchor="middle" textLength="35.4" lengthAdjust="spacingAndGlyphs">02:00</text>
<text stroke="#000" stroke-width="0.25" x="511.41" y="630.85" font-size="11.9" text-anchor="middle" textLength="34.6" lengthAdjust="spacingAndGlyphs">01/21</text>
<line x1="582.82" y1="600.45" x2="582.82" y2="605.1500000000001" stroke="#2b2b2b" stroke-width="1.05"/>
<text stroke="#000" stroke-width="0.25" x="583.17" y="617.85" font-size="11.9" text-anchor="middle" textLength="35.4" lengthAdjust="spacingAndGlyphs">02:30</text>
<text stroke="#000" stroke-width="0.25" x="583.17" y="630.85" font-size="11.9" text-anchor="middle" textLength="34.6" lengthAdjust="spacingAndGlyphs">01/21</text>
<line x1="654.58" y1="600.45" x2="654.58" y2="605.1500000000001" stroke="#2b2b2b" stroke-width="1.05"/>
<text stroke="#000" stroke-width="0.25" x="654.93" y="617.85" font-size="11.9" text-anchor="middle" textLength="35.4" lengthAdjust="spacingAndGlyphs">03:00</text>
<text stroke="#000" stroke-width="0.25" x="654.93" y="630.85" font-size="11.9" text-anchor="middle" textLength="34.6" lengthAdjust="spacingAndGlyphs">01/21</text>
<text stroke="#000" stroke-width="0.25" x="367.55" y="649.35" font-size="15.8" text-anchor="middle" textLength="39.4" lengthAdjust="spacingAndGlyphs">Date</text>
<text stroke="#000" stroke-width="0.25" transform="translate(11.4,477.48) rotate(-90)" font-size="14.0" text-anchor="middle" textLength="141.0" lengthAdjust="spacingAndGlyphs">Population counts</text>
<text stroke="#000" stroke-width="0.25" x="75.3" y="382.60" font-size="16.9" text-anchor="start" textLength="162.8" lengthAdjust="spacingAndGlyphs">Yujing urban area</text>
<text stroke="#000" stroke-width="0.25" x="53.6" y="345.60" font-size="15.6" text-anchor="start" textLength="24.2" lengthAdjust="spacingAndGlyphs">(b)</text>
</g>
</svg>
</body>
</html>
